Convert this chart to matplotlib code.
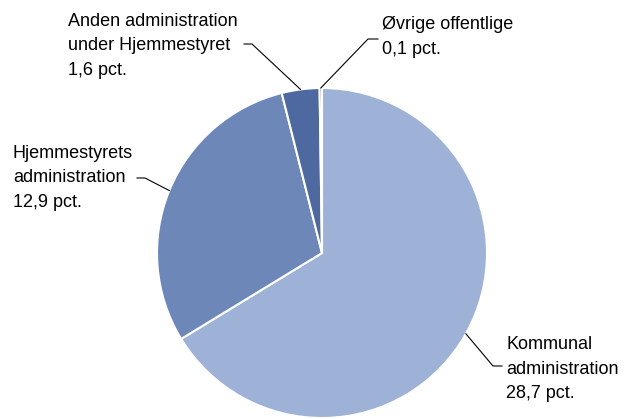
import numpy as np
from matplotlib import pyplot as plt

labels = ['Kommunal\nadministration\n28,7 pct.',
          'Hjemmestyrets\nadministration\n12,9 pct.',
          'Anden administration\nunder Hjemmestyret\n1,6 pct.',
          'Øvrige offentlige\n0,1 pct.']
values = [28.7, 12.9, 1.6, 0.1]
colors = ['#9EB1D6', '#6C87B8', '#4D69A0', '#3A5590']

# label layout in pixels (y from top): text x, text y (centre), elbow x, elbow y, line end x
text_pos = [(506, 369, 493, 366, 502),
            (13, 178, 145, 178, 137),
            (68, 46, 252, 44, 244),
            (382, 37, 368, 39, 378)]

W, H = 624, 419
cx, cy, r = 322, 253, 165

plt.rcParams['font.family'] = ['Liberation Sans', 'DejaVu Sans']
fig = plt.figure(figsize=(W / 100, H / 100), dpi=100)
ax = fig.add_axes([0, 0, 1, 1])

wedges, _ = ax.pie(values, colors=colors, startangle=90, counterclock=False,
                   center=(cx, H - cy), radius=r,
                   wedgeprops=dict(edgecolor='white', linewidth=1.5))
ax.set_xlim(0, W)
ax.set_ylim(0, H)
ax.set_aspect('equal')
ax.axis('off')

for w, lab, (tx, ty, ex, ey, lx) in zip(wedges, labels, text_pos):
    mid = np.deg2rad((w.theta1 + w.theta2) / 2)
    px = cx + r * np.cos(mid)
    py = (H - cy) + r * np.sin(mid)
    ax.plot([px, ex, lx], [py, H - ey, H - ey], color='black', lw=0.8)
    ax.text(tx, H - ty, lab, ha='left', va='center', fontsize=13,
            linespacing=1.55, color='black')

fig.savefig('out.png', dpi=100)
